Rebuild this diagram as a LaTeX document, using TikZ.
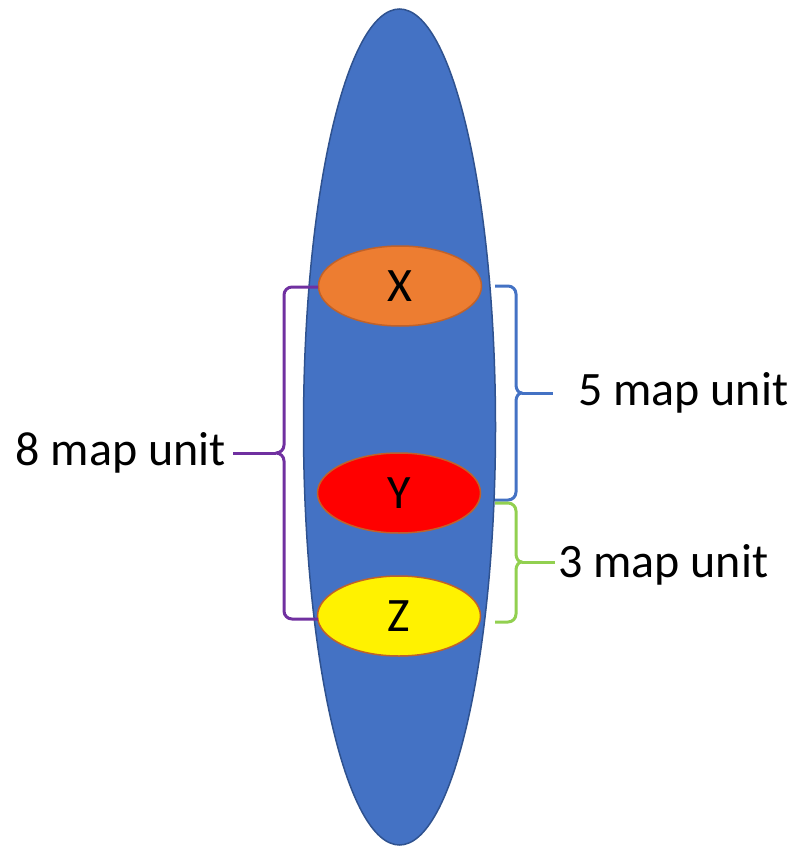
\documentclass[tikz,border=0pt]{standalone}
\usepackage{fontspec}
\setmainfont{Carlito}
\usetikzlibrary{shapes.geometric}
\definecolor{chromblue}{HTML}{4472C4}
\definecolor{chromedge}{HTML}{2F528F}
\definecolor{geneedge}{HTML}{C0622A}
\definecolor{orangeX}{HTML}{ED7D31}
\definecolor{purpbr}{HTML}{7030A0}
\definecolor{greenbr}{HTML}{92D050}

\begin{document}
\begin{tikzpicture}[x=1pt,y=-1pt,
  chrom/.style={ellipse,draw=chromedge,line width=1.5pt,fill=chromblue,inner sep=0pt,minimum width=192pt,minimum height=836pt},
  gene/.style={ellipse,draw=geneedge,line width=1.5pt,inner sep=0pt,minimum width=163pt,minimum height=80pt,font=\fontsize{48}{56}\selectfont},
  lbl/.style={inner sep=0pt,font=\fontsize{48}{56}\selectfont},
  br/.style={line width=3pt,line join=round}]
\useasboundingbox (0,0) rectangle (794,848);
\node[chrom] (chr) at (399.5,427) {};
\node[gene,fill=orangeX] (X) at (400,286) {X};
\node[gene,fill=red] (Y) at (399,493) {Y};
\node[gene,fill=yellow] (Z) at (399,616) {Z};
% labels
\node[lbl,anchor=base east] (l8) at (226,465) {8 map unit};
\node[lbl,anchor=base west] (l5) at (578,405) {5 map unit};
\node[lbl,anchor=base west] (l3) at (558,577) {3 map unit};
% brace tips
\coordinate (t8) at (276,453);
\coordinate (t5) at (522,393);
\coordinate (t3) at (522,562);
\coordinate (e8) at (233,453);
\coordinate (e5) at (553,393);
\coordinate (e3) at (555,562);
% X to Z
\draw[br,purpbr] (318,287) -- (292,287) to[out=180,in=90] (284,295) -- (284,445)
  to[out=-90,in=0] (t8) to[out=0,in=90] (284,461) -- (284,611)
  to[out=-90,in=180] (292,619) -- (318,619);
\draw[br,purpbr] (t8) -- (e8);
% X to Y
\draw[br,chromblue] (495,286) -- (508,286) to[out=0,in=90] (516,294) -- (516,385)
  to[out=-90,in=180] (t5) to[out=180,in=90] (516,401) -- (516,492)
  to[out=-90,in=0] (508,500) -- (495,500);
\draw[br,chromblue] (t5) -- (e5);
% Y to Z
\draw[br,greenbr] (495,503) -- (508,503) to[out=0,in=90] (516,511) -- (516,554)
  to[out=-90,in=180] (t3) to[out=180,in=90] (516,570) -- (516,614)
  to[out=-90,in=0] (508,622) -- (495,622);
\draw[br,greenbr] (t3) -- (e3);
\end{tikzpicture}
\end{document}
